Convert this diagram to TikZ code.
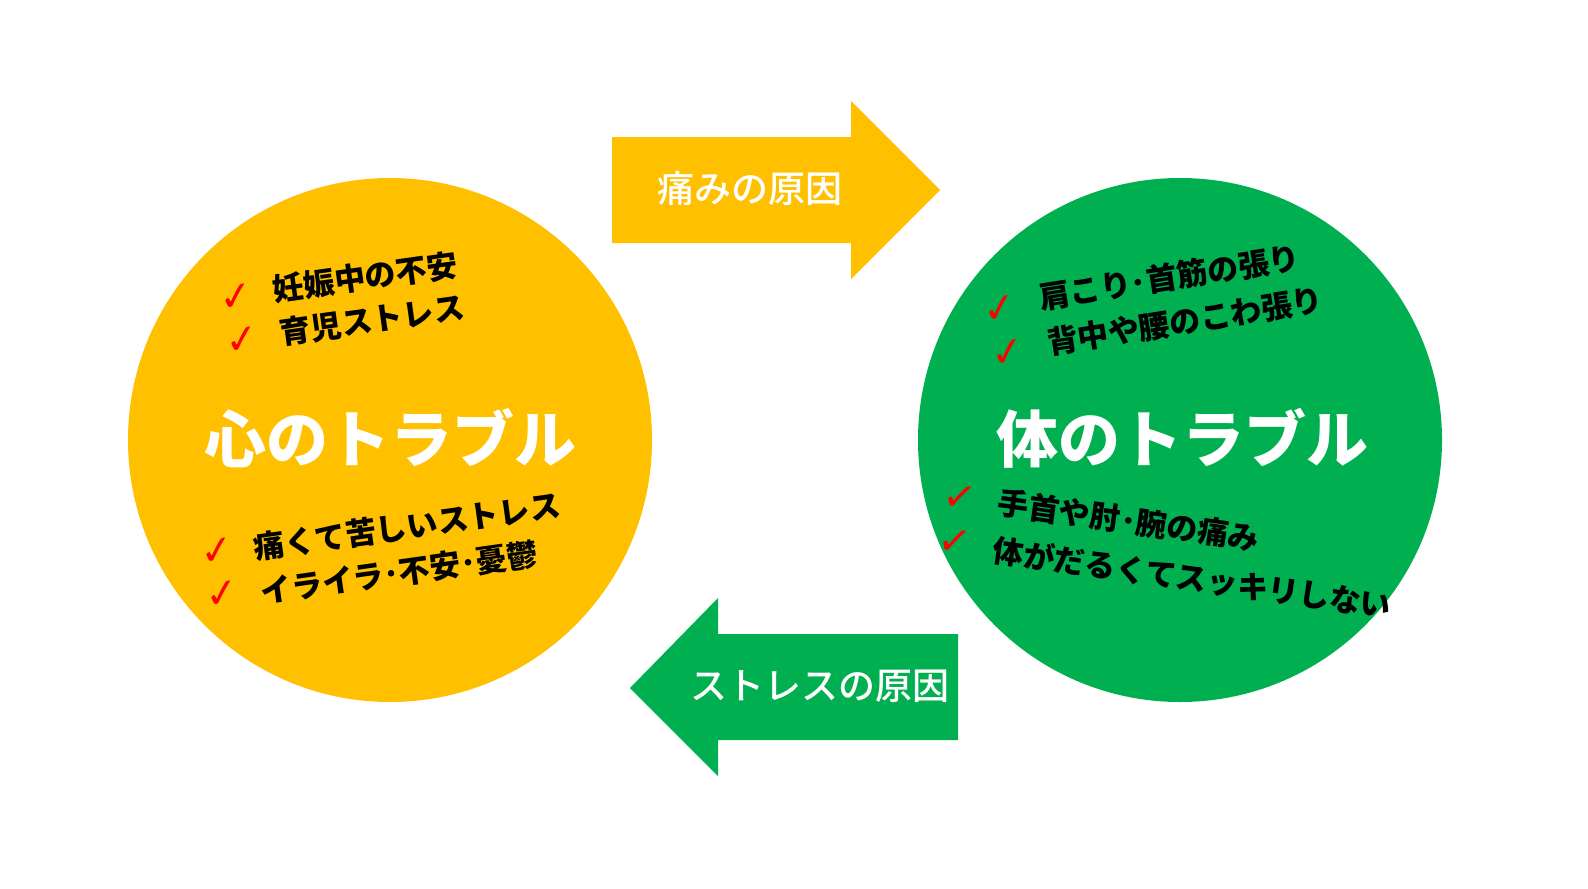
\documentclass[tikz,border=0pt]{standalone}
\usepackage{fontspec}
\newfontfamily\jp{Noto Sans CJK JP Black}
\newfontfamily\jpt{Noto Sans CJK JP Bold}
\newfontfamily\jpm{Noto Sans CJK JP Medium}
\newfontfamily\dv{DejaVu Sans}
\definecolor{yel}{HTML}{FFC000}
\definecolor{grn}{HTML}{00B050}
\begin{document}
\begin{tikzpicture}[x=1pt,y=-1pt,
  item/.style={anchor=west,inner sep=0pt,font=\jp\fontsize{31}{31}\selectfont,text=black},
  chk/.style={inner sep=0pt,text=red,font=\dv\bfseries\fontsize{40}{40}\selectfont},
  title/.style={text=white,font=\jp\fontsize{62}{62}\selectfont},
  albl/.style={text=white,font=\jpm\fontsize{37}{37}\selectfont}]
\useasboundingbox[fill=white] (0,0) rectangle (1588,889);
\fill[yel] (390,440) circle (262);
\fill[grn] (1180,440) circle (262);
\fill[yel] (612,137) -- (851,137) -- (851,101) -- (940,190) -- (851,279) -- (851,243) -- (612,243) -- cycle;
\fill[grn] (958,634) -- (718,634) -- (718,598) -- (630,688) -- (718,776) -- (718,740) -- (958,740) -- cycle;
\node[albl] (a1) at (750,188) {痛みの原因};
\node[albl] (a2) at (820,686) {ストレスの原因};
\node[title] (t1) at (390,438) {心のトラブル};
\node[title] (t2) at (1182,438) {体のトラブル};
% left top
\node[chk,rotate=8] (c1) at (236,298) {✓};
\node[item,rotate=8] (l1) at (273,290) {妊娠中の不安};
\node[chk,rotate=8] (c2) at (242,341) {✓};
\node[item,rotate=8] (l2) at (280,333) {育児ストレス};
% left bottom
\node[chk,rotate=8] (c3) at (217,552) {✓};
\node[item,rotate=8] (l3) at (254,548) {痛くて苦しいストレス};
\node[chk,rotate=8] (c4) at (222,595) {✓};
\node[item,rotate=8] (l4) at (261,592) {イライラ･不安･憂鬱};
% right top
\node[chk,rotate=9] (c5) at (1000,309) {✓};
\node[item,rotate=9] (r1) at (1039,298) {肩こり･首筋の張り};
\node[chk,rotate=9] (c6) at (1008,353) {✓};
\node[item,rotate=9] (r2) at (1047,343) {背中や腰のこわ張り};
% right bottom
\node[chk,rotate=-8] (c7) at (960,498) {✓};
\node[item,rotate=-8] (r3) at (998,502) {手首や肘･腕の痛み};
\node[chk,rotate=-8] (c8) at (955,542) {✓};
\node[item,rotate=-8] (r4) at (993,550) {体がだるくてスッキリしない};
\end{tikzpicture}
\end{document}
